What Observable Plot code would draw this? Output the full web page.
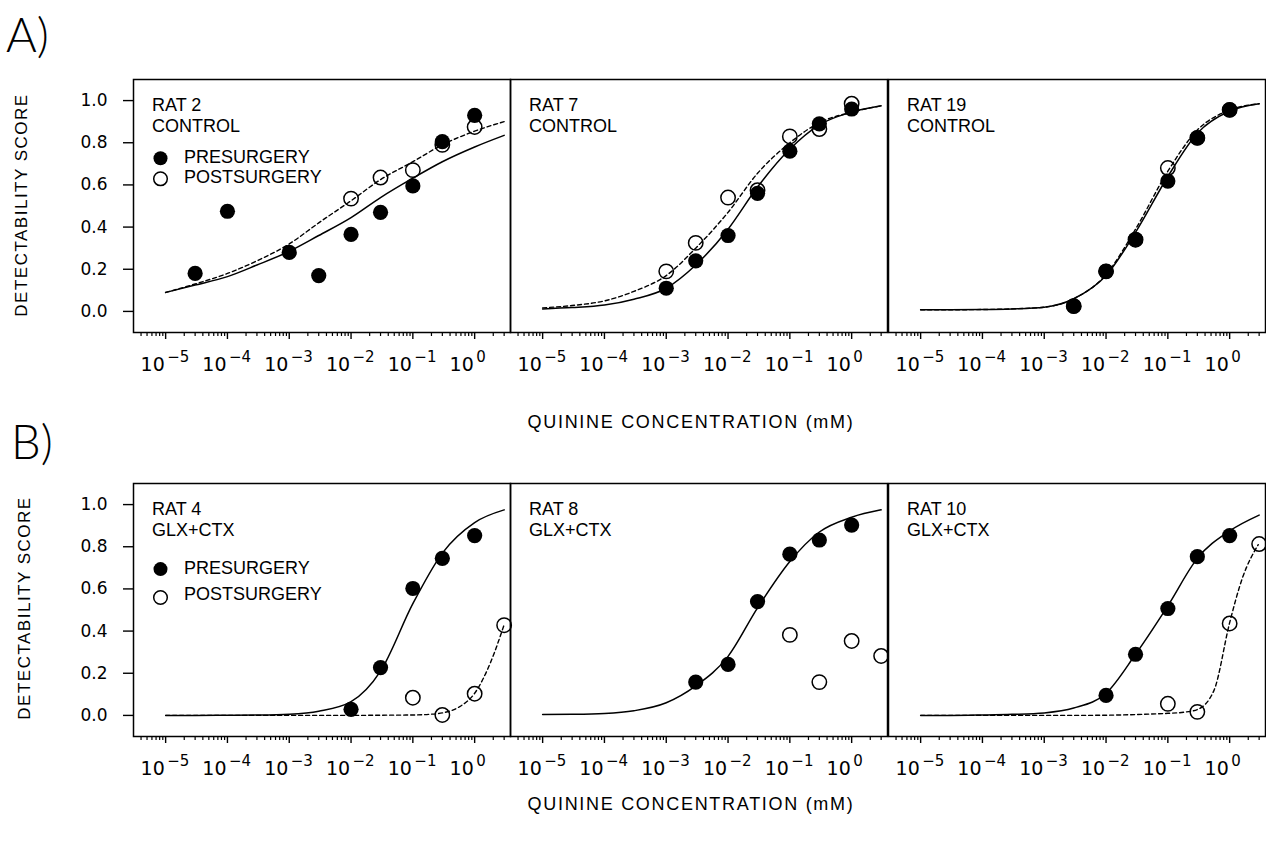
<!DOCTYPE html>
<html>
<head>
<meta charset="utf-8">
<script src="https://cdn.jsdelivr.net/npm/d3@7"></script>
<script src="https://cdn.jsdelivr.net/npm/@observablehq/plot@0.6"></script>
<style>
  html, body { margin: 0; padding: 0; background: #fff; }
  #fig { position: relative; width: 1266px; height: 841px; overflow: hidden; background: #fff; }
  #fig > svg { position: absolute; }
</style>
</head>
<body>
<div id="fig"></div>
<script>
// ---------------- DATA ----------------
// axis ticks and tick labels
const majorTicks = [1e-5, 1e-4, 1e-3, 1e-2, 1e-1, 1];
const tickBase = ["10", "10", "10", "10", "10", "10"];
const tickExponents = ["−5", "−4", "−3", "−2", "−1", "0"];
const yTicks = [0, 0.2, 0.4, 0.6, 0.8, 1.0];
const yTickLabels = ["0.0", "0.2", "0.4", "0.6", "0.8", "1.0"];

// x positions at which the fitted curves were read (mM)
const fitX = [1e-5, 3e-5, 1e-4, 3e-4, 1e-3, 3e-3, 1e-2, 3e-2, 0.1, 0.3, 1, 3];

// RAT 2 (control)
const rat2PreX  = [3e-5, 1e-4, 1e-3, 3e-3, 1e-2, 3e-2, 0.1, 0.3, 1];
const rat2PreY  = [0.18, 0.475, 0.28, 0.17, 0.365, 0.47, 0.595, 0.805, 0.93];
const rat2PostX = [1e-2, 3e-2, 0.1, 0.3, 1];
const rat2PostY = [0.535, 0.635, 0.67, 0.79, 0.875];
const rat2FitPre  = [0.09, 0.125, 0.165, 0.22, 0.285, 0.36, 0.445, 0.54, 0.632, 0.71, 0.78, 0.835];
const rat2FitPost = [0.09, 0.13, 0.18, 0.24, 0.32, 0.42, 0.525, 0.625, 0.71, 0.79, 0.855, 0.9];

// RAT 7 (control)
const rat7X     = [1e-3, 3e-3, 1e-2, 3e-2, 0.1, 0.3, 1];
const rat7PreY  = [0.11, 0.24, 0.36, 0.56, 0.76, 0.89, 0.96];
const rat7PostY = [0.19, 0.325, 0.54, 0.575, 0.83, 0.865, 0.985];
const rat7FitPre  = [0.012, 0.018, 0.03, 0.058, 0.11, 0.22, 0.39, 0.59, 0.77, 0.885, 0.945, 0.975];
const rat7FitPost = [0.017, 0.028, 0.05, 0.095, 0.17, 0.3, 0.47, 0.655, 0.8, 0.895, 0.945, 0.975];

// RAT 19 (control)
const rat19X     = [3e-3, 1e-2, 3e-2, 0.1, 0.3, 1];
const rat19PreY  = [0.025, 0.19, 0.34, 0.618, 0.823, 0.956];
const rat19PostY = [0.025, 0.19, 0.34, 0.68, 0.823, 0.956];
const rat19FitPre  = [0.008, 0.008, 0.009, 0.012, 0.02, 0.06, 0.17, 0.375, 0.64, 0.845, 0.95, 0.985];
const rat19FitPost = [0.008, 0.008, 0.009, 0.012, 0.02, 0.06, 0.175, 0.39, 0.665, 0.86, 0.955, 0.985];

// RAT 4 (GLX+CTX)
const rat4PreX  = [1e-2, 3e-2, 0.1, 0.3, 1];
const rat4PreY  = [0.029, 0.227, 0.602, 0.745, 0.853];
const rat4PostX = [0.1, 0.3, 1, 3];
const rat4PostY = [0.084, 0.002, 0.103, 0.428];
const rat4FitPre   = [0, 0, 0.001, 0.002, 0.006, 0.02, 0.065, 0.21, 0.53, 0.77, 0.915, 0.975];
const rat4FitPostX = [1e-5, 3e-5, 1e-4, 3e-4, 1e-3, 3e-3, 1e-2, 3e-2, 0.1, 0.18, 0.3, 0.56, 1, 1.8, 3];
const rat4FitPostY = [0, 0, 0, 0, 0, 0, 0, 0.001, 0.002, 0.005, 0.012, 0.04, 0.105, 0.25, 0.43];

// RAT 8 (GLX+CTX)
const rat8PreX  = [3e-3, 1e-2, 3e-2, 0.1, 0.3, 1];
const rat8PreY  = [0.158, 0.242, 0.54, 0.765, 0.832, 0.903];
const rat8PostX = [0.1, 0.3, 1, 3];
const rat8PostY = [0.382, 0.158, 0.353, 0.282];
const rat8FitPre = [0.004, 0.005, 0.009, 0.022, 0.06, 0.14, 0.28, 0.51, 0.73, 0.87, 0.94, 0.975];

// RAT 10 (GLX+CTX)
const rat10PreX  = [1e-2, 3e-2, 0.1, 0.3, 1];
const rat10PreY  = [0.095, 0.29, 0.507, 0.753, 0.853];
const rat10PostX = [0.1, 0.3, 1, 3];
const rat10PostY = [0.055, 0.017, 0.436, 0.813];
const rat10FitPre   = [0, 0, 0.002, 0.005, 0.012, 0.035, 0.105, 0.29, 0.52, 0.745, 0.875, 0.95];
const rat10FitPostX = [1e-5, 3e-5, 1e-4, 3e-4, 1e-3, 3e-3, 1e-2, 3e-2, 0.1, 0.18, 0.3, 0.56, 1, 1.6, 2.9];
const rat10FitPostY = [0, 0, 0, 0, 0, 0, 0.001, 0.004, 0.01, 0.015, 0.028, 0.12, 0.44, 0.65, 0.81];

// texts
const rowLetters = ["A)", "B)"];
const yLabel = "DETECTABILITY SCORE";
const xLabel = "QUININE CONCENTRATION (mM)";
const legendLabels = ["PRESURGERY", "POSTSURGERY"];

// ---------------- LAYOUT ----------------
const FONT = '"Liberation Sans", Arial, Helvetica, sans-serif';
const TICKFONT = '"DejaVu Sans", "Liberation Sans", sans-serif';
const xDomain = [Math.pow(10, -5.52), Math.pow(10, 0.58)];
const FRAME_W = 377, FRAME_H = 253;
const rowTop = [79, 482.5];
const colLeft = [133, 510, 887.5];
const legendPos = [
  {d1: 78.7, d2: 99.3, t1: 71, t2: 91},
  {d1: 85.6, d2: 114, t1: 77.3, t2: 103.3}
];

const minorTicks = [1e-6, ...majorTicks]
  .flatMap(d => [2, 3, 4, 5, 6, 7, 8, 9].map(k => k * d))
  .filter(v => v >= xDomain[0] && v <= xDomain[1]);

function pts(xs, ys) { return xs.map((x, i) => ({x, y: ys[i]})); }

const panels = [
  {row: 0, col: 0, title: "RAT 2\nCONTROL", pre: pts(rat2PreX, rat2PreY), post: pts(rat2PostX, rat2PostY),
   fitPre: pts(fitX, rat2FitPre), fitPost: pts(fitX, rat2FitPost), legend: true},
  {row: 0, col: 1, title: "RAT 7\nCONTROL", pre: pts(rat7X, rat7PreY), post: pts(rat7X, rat7PostY),
   fitPre: pts(fitX, rat7FitPre), fitPost: pts(fitX, rat7FitPost)},
  {row: 0, col: 2, title: "RAT 19\nCONTROL", pre: pts(rat19X, rat19PreY), post: pts(rat19X, rat19PostY),
   fitPre: pts(fitX, rat19FitPre), fitPost: pts(fitX, rat19FitPost)},
  {row: 1, col: 0, title: "RAT 4\nGLX+CTX", pre: pts(rat4PreX, rat4PreY), post: pts(rat4PostX, rat4PostY),
   fitPre: pts(fitX, rat4FitPre), fitPost: pts(rat4FitPostX, rat4FitPostY), legend: true},
  {row: 1, col: 1, title: "RAT 8\nGLX+CTX", pre: pts(rat8PreX, rat8PreY), post: pts(rat8PostX, rat8PostY),
   fitPre: pts(fitX, rat8FitPre), fitPost: null},
  {row: 1, col: 2, title: "RAT 10\nGLX+CTX", pre: pts(rat10PreX, rat10PreY), post: pts(rat10PostX, rat10PostY),
   fitPre: pts(fitX, rat10FitPre), fitPost: pts(rat10FitPostX, rat10FitPostY)}
];

const fig = document.getElementById("fig");
const MT = 20, MB = 70;

function drawPanel(p) {
  const yAxis = p.col === 0;
  const ml = yAxis ? colLeft[0] : 0;
  const marks = [
    Plot.frame({stroke: "#000", strokeWidth: 1.5}),
    Plot.axisX({ticks: minorTicks, tickSize: 4, tickFormat: () => "", label: null, strokeWidth: 1.2}),
    Plot.axisX({ticks: majorTicks, tickSize: 7, tickFormat: () => "", label: null, strokeWidth: 1.4}),
    // x tick labels: "10" with a raised exponent
    Plot.text(majorTicks, {x: majorTicks, frameAnchor: "bottom", text: tickBase, dx: -13, dy: 38,
                           textAnchor: "middle", lineAnchor: "bottom", fontSize: 19, fontFamily: TICKFONT,
                           fill: "#000"}),
    Plot.text(majorTicks, {x: majorTicks, frameAnchor: "bottom", text: tickExponents, dx: 1.5, dy: 29,
                           textAnchor: "start", lineAnchor: "bottom", fontSize: 15, fontFamily: TICKFONT,
                           fill: "#000"})
  ];
  if (yAxis) {
    marks.push(Plot.axisY({ticks: yTicks, tickSize: 10, tickFormat: () => "", label: null, strokeWidth: 1.4}));
    marks.push(Plot.text(yTicks, {y: yTicks, frameAnchor: "left", text: yTickLabels, dx: -26,
                                  textAnchor: "end", lineAnchor: "middle", fontSize: 17, fontFamily: TICKFONT,
                                  fill: "#000"}));
  }
  marks.push(Plot.line(p.fitPre, {x: "x", y: "y", curve: "monotone-x", stroke: "#000", strokeWidth: 1.5}));
  if (p.fitPost) {
    marks.push(Plot.line(p.fitPost, {x: "x", y: "y", curve: "monotone-x", stroke: "#000",
                                     strokeWidth: 1.4, strokeDasharray: "4,3"}));
  }
  marks.push(Plot.dot(p.post, {x: "x", y: "y", r: 7.2, fill: "none", stroke: "#000", strokeWidth: 1.5}));
  marks.push(Plot.dot(p.pre, {x: "x", y: "y", r: 7.6, fill: "#000", stroke: "none"}));
  marks.push(Plot.text([p.title], {frameAnchor: "top-left", dx: 18.5, dy: 17, textAnchor: "start",
                                   lineAnchor: "top", lineHeight: 1.14, fontSize: 18, fill: "#000"}));
  if (p.legend) {
    const L = legendPos[p.row];
    marks.push(Plot.dot([0], {frameAnchor: "top-left", dx: 27, dy: L.d1, r: 7, fill: "#000", stroke: "none"}));
    marks.push(Plot.dot([0], {frameAnchor: "top-left", dx: 27, dy: L.d2, r: 6.8, fill: "none", stroke: "#000", strokeWidth: 1.5}));
    marks.push(Plot.text([legendLabels[0]], {frameAnchor: "top-left", dx: 50.5, dy: L.t1, textAnchor: "start",
                                             lineAnchor: "top", fontSize: 18, fill: "#000"}));
    marks.push(Plot.text([legendLabels[1]], {frameAnchor: "top-left", dx: 50.5, dy: L.t2, textAnchor: "start",
                                             lineAnchor: "top", fontSize: 18, fill: "#000"}));
  }
  const svg = Plot.plot({
    width: ml + FRAME_W, height: MT + FRAME_H + MB,
    marginLeft: ml, marginRight: 0, marginTop: MT, marginBottom: MB,
    x: {type: "log", domain: xDomain},
    y: {domain: [-0.1, 1.1], axis: yAxis ? undefined : null},
    style: {background: "transparent", overflow: "visible", fontFamily: FONT, fontSize: "18px", color: "#000"},
    marks
  });
  svg.style.left = (p.col === 0 ? 0 : colLeft[p.col]) + "px";
  svg.style.top = (rowTop[p.row] - MT) + "px";
  svg.style.maxWidth = "none";
  fig.appendChild(svg);
}

panels.forEach(drawPanel);

// ---------------- overlay labels ----------------
const ov = d3.create("svg").attr("width", 1266).attr("height", 841)
  .style("left", "0px").style("top", "0px").style("overflow", "visible")
  .attr("font-family", FONT).attr("fill", "#000");
const letterPos = [{x: 6, y: 52}, {x: 11, y: 459}];
const yLabelPos = [{x: 21, y: 205}, {x: 24, y: 608}];
const xLabelPos = [{x: 691, y: 428}, {x: 691, y: 810}];
rowLetters.forEach((s, i) => {
  ov.append("text").attr("x", letterPos[i].x).attr("y", letterPos[i].y)
    .attr("font-size", 47).attr("font-family", '"Lato", ' + FONT).attr("font-weight", 300).text(s);
  ov.append("text").attr("transform", `translate(${yLabelPos[i].x},${yLabelPos[i].y}) rotate(-90)`)
    .attr("text-anchor", "middle").attr("dominant-baseline", "central")
    .attr("font-size", 17).style("letter-spacing", "1.5px").text(yLabel);
  ov.append("text").attr("x", xLabelPos[i].x).attr("y", xLabelPos[i].y)
    .attr("text-anchor", "middle").attr("font-size", 18).style("letter-spacing", "1.7px").text(xLabel);
});
fig.appendChild(ov.node());
</script>
</body>
</html>
